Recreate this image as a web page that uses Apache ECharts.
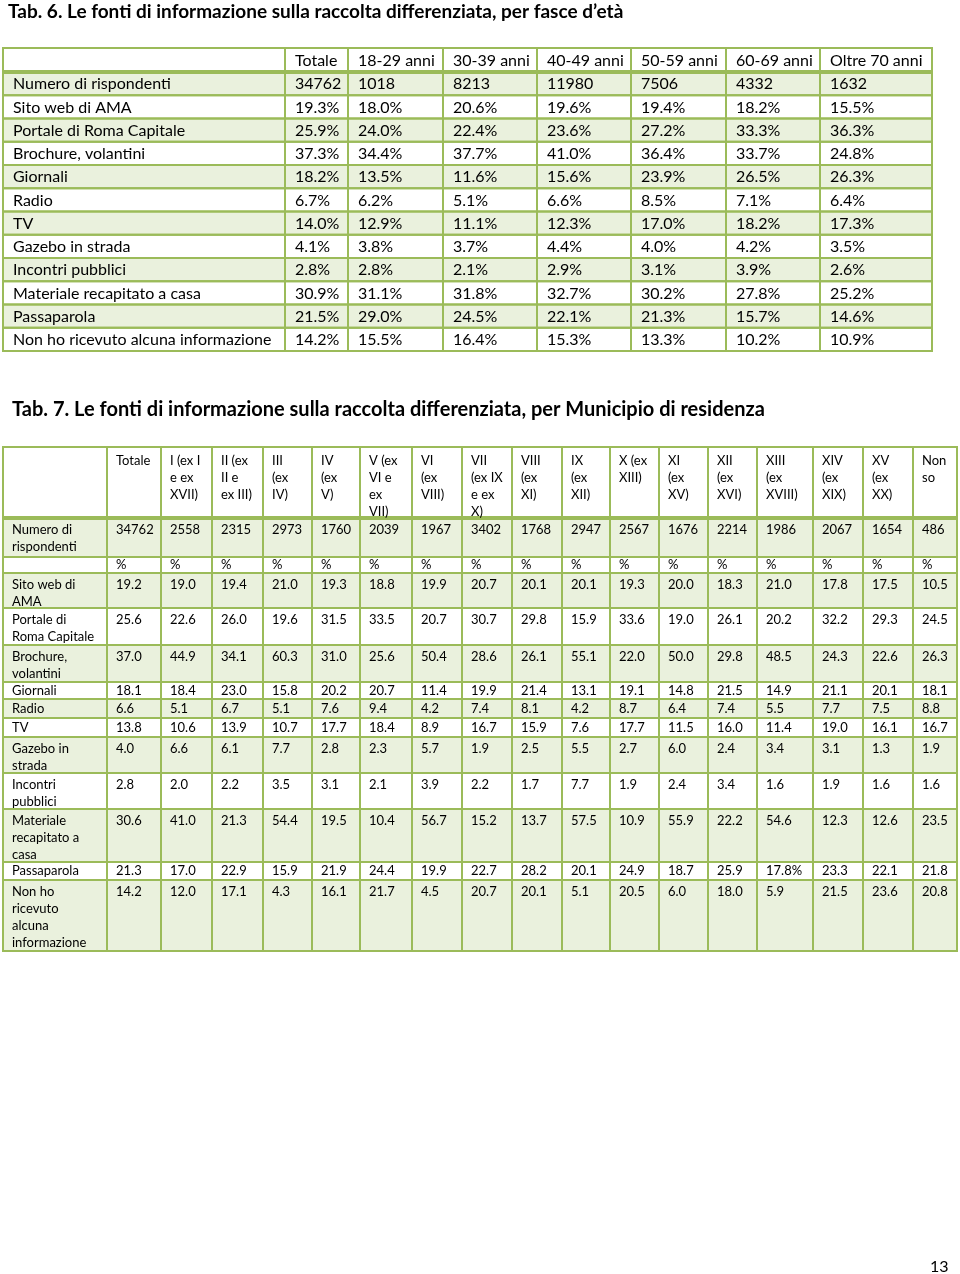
<!DOCTYPE html>
<html><head><meta charset="utf-8">
<script src="https://cdn.jsdelivr.net/npm/echarts/dist/echarts.min.js"></script>
<style>html,body{margin:0;padding:0;background:#fff}#c{width:960px;height:1274px}</style>
</head><body><div id="c"></div>
<script>
// ---------- DATA: Tab. 6 ----------
const title6 = "Tab. 6. Le fonti di informazione sulla raccolta differenziata, per fasce d’età";
const groups6 = ["Totale", "18-29 anni", "30-39 anni", "40-49 anni", "50-59 anni", "60-69 anni", "Oltre 70 anni"];
const sources6 = ["Numero di rispondenti", "Sito web di AMA", "Portale di Roma Capitale", "Brochure, volantini", "Giornali", "Radio", "TV", "Gazebo in strada", "Incontri pubblici", "Materiale recapitato a casa", "Passaparola", "Non ho ricevuto alcuna informazione"];
const respondents6 = [34762, 1018, 8213, 11980, 7506, 4332, 1632];
const sito6 = [19.3, 18.0, 20.6, 19.6, 19.4, 18.2, 15.5];
const portale6 = [25.9, 24.0, 22.4, 23.6, 27.2, 33.3, 36.3];
const brochure6 = [37.3, 34.4, 37.7, 41.0, 36.4, 33.7, 24.8];
const giornali6 = [18.2, 13.5, 11.6, 15.6, 23.9, 26.5, 26.3];
const radio6 = [6.7, 6.2, 5.1, 6.6, 8.5, 7.1, 6.4];
const tv6 = [14.0, 12.9, 11.1, 12.3, 17.0, 18.2, 17.3];
const gazebo6 = [4.1, 3.8, 3.7, 4.4, 4.0, 4.2, 3.5];
const incontri6 = [2.8, 2.8, 2.1, 2.9, 3.1, 3.9, 2.6];
const materiale6 = [30.9, 31.1, 31.8, 32.7, 30.2, 27.8, 25.2];
const passaparola6 = [21.5, 29.0, 24.5, 22.1, 21.3, 15.7, 14.6];
const nonho6 = [14.2, 15.5, 16.4, 15.3, 13.3, 10.2, 10.9];

// ---------- DATA: Tab. 7 ----------
const title7 = "Tab. 7. Le fonti di informazione sulla raccolta differenziata, per Municipio di residenza";
const municipi7 = ["Totale", "I (ex I\ne ex\nXVII)", "II (ex\nII e\nex III)", "III\n(ex\nIV)", "IV\n(ex\nV)", "V (ex\nVI e\nex\nVII)", "VI\n(ex\nVIII)", "VII\n(ex IX\ne ex\nX)", "VIII\n(ex\nXI)", "IX\n(ex\nXII)", "X (ex\nXIII)", "XI\n(ex\nXV)", "XII\n(ex\nXVI)", "XIII\n(ex\nXVIII)", "XIV\n(ex\nXIX)", "XV\n(ex\nXX)", "Non\nso"];
const sources7 = ["Numero di\nrispondenti", "", "Sito web di\nAMA", "Portale di\nRoma Capitale", "Brochure,\nvolantini", "Giornali", "Radio", "TV", "Gazebo in\nstrada", "Incontri\npubblici", "Materiale\nrecapitato a\ncasa", "Passaparola", "Non ho\nricevuto\nalcuna\ninformazione"];
const respondents7 = [34762, 2558, 2315, 2973, 1760, 2039, 1967, 3402, 1768, 2947, 2567, 1676, 2214, 1986, 2067, 1654, 486];
const unit7 = ["%", "%", "%", "%", "%", "%", "%", "%", "%", "%", "%", "%", "%", "%", "%", "%", "%"];
const sito7 = [19.2, 19.0, 19.4, 21.0, 19.3, 18.8, 19.9, 20.7, 20.1, 20.1, 19.3, 20.0, 18.3, 21.0, 17.8, 17.5, 10.5];
const portale7 = [25.6, 22.6, 26.0, 19.6, 31.5, 33.5, 20.7, 30.7, 29.8, 15.9, 33.6, 19.0, 26.1, 20.2, 32.2, 29.3, 24.5];
const brochure7 = [37.0, 44.9, 34.1, 60.3, 31.0, 25.6, 50.4, 28.6, 26.1, 55.1, 22.0, 50.0, 29.8, 48.5, 24.3, 22.6, 26.3];
const giornali7 = [18.1, 18.4, 23.0, 15.8, 20.2, 20.7, 11.4, 19.9, 21.4, 13.1, 19.1, 14.8, 21.5, 14.9, 21.1, 20.1, 18.1];
const radio7 = [6.6, 5.1, 6.7, 5.1, 7.6, 9.4, 4.2, 7.4, 8.1, 4.2, 8.7, 6.4, 7.4, 5.5, 7.7, 7.5, 8.8];
const tv7 = [13.8, 10.6, 13.9, 10.7, 17.7, 18.4, 8.9, 16.7, 15.9, 7.6, 17.7, 11.5, 16.0, 11.4, 19.0, 16.1, 16.7];
const gazebo7 = [4.0, 6.6, 6.1, 7.7, 2.8, 2.3, 5.7, 1.9, 2.5, 5.5, 2.7, 6.0, 2.4, 3.4, 3.1, 1.3, 1.9];
const incontri7 = [2.8, 2.0, 2.2, 3.5, 3.1, 2.1, 3.9, 2.2, 1.7, 7.7, 1.9, 2.4, 3.4, 1.6, 1.9, 1.6, 1.6];
const materiale7 = [30.6, 41.0, 21.3, 54.4, 19.5, 10.4, 56.7, 15.2, 13.7, 57.5, 10.9, 55.9, 22.2, 54.6, 12.3, 12.6, 23.5];
const passaparola7 = [21.3, 17.0, 22.9, 15.9, 21.9, 24.4, 19.9, 22.7, 28.2, 20.1, 24.9, 18.7, 25.9, "17.8%", 23.3, 22.1, 21.8];
const nonho7 = [14.2, 12.0, 17.1, 4.3, 16.1, 21.7, 4.5, 20.7, 20.1, 5.1, 20.5, 6.0, 18.0, 5.9, 21.5, 23.6, 20.8];

const pageNumber = "13";

// ---------- LAYOUT (not data) ----------
const BORDER = '#9bbb59', SHADE = '#eaf1dd', FONT = 'Lato, "Open Sans", sans-serif';
const L6 = { left: 3, top: 48, colW: [282, 63, 95, 94, 94, 95, 94, 112], rowH: [24, 23.25, 23.25, 23.25, 23.25, 23.25, 23.25, 23.25, 23.25, 23.25, 23.25, 23.25, 23.25],
  fontSize: 16, padL: 10, lh: 20, firstCenter: (r, h) => h / 2 + 0.5 };
const L7 = { left: 3, top: 447, colW: [104, 54, 51, 51, 49, 48, 52, 50, 50, 50, 48, 49, 49, 49, 56, 50, 50, 44], rowH: [71, 39, 16, 35, 37, 37, 17, 19, 19, 36, 36, 53, 18, 71],
  fontSize: 13, padL: 9, lh: 17, firstCenter: (r, h) => h < 22 ? h / 2 : (r === 0 ? 14 : 12) };
function edges(ws) { const e = [0]; ws.forEach(w => e.push(e[e.length - 1] + w)); return e; }
[L6, L7].forEach(L => { L.xE = edges(L.colW); L.yE = edges(L.rowH); L.W = L.xE[L.xE.length - 1]; L.H = L.yE[L.yE.length - 1]; });

// ---------- build cells ----------
function cellsFor(headers, labels, rows, fmt) {
  const cells = [];
  cells.push({ value: [0, 0], text: '' });
  headers.forEach((h, i) => cells.push({ value: [i + 1, 0], text: h }));
  labels.forEach((lab, r) => {
    cells.push({ value: [0, r + 1], text: lab });
    rows[r].forEach((v, c) => cells.push({ value: [c + 1, r + 1], text: fmt(v, r) }));
  });
  return cells;
}
const rows6 = [respondents6, sito6, portale6, brochure6, giornali6, radio6, tv6, gazebo6, incontri6, materiale6, passaparola6, nonho6];
const cells6 = cellsFor(groups6, sources6, rows6, (v, r) => r === 0 ? String(v) : v.toFixed(1) + '%');
const rows7 = [respondents7, unit7, sito7, portale7, brochure7, giornali7, radio7, tv7, gazebo7, incontri7, materiale7, passaparola7, nonho7];
const cells7 = cellsFor(municipi7, sources7, rows7, (v, r) => typeof v === 'string' ? v : (r === 0 ? String(v) : v.toFixed(1)));

function renderer(L, cells) {
  return function (params, api) {
    const c = api.value(0), r = api.value(1);
    const item = cells[params.dataIndex];
    const p0 = api.coord([L.xE[c], L.yE[r]]);
    const p1 = api.coord([L.xE[c + 1], L.yE[r + 1]]);
    const w = p1[0] - p0[0], h = p1[1] - p0[1];
    const shaded = r % 2 === 1;
    const ch = [
      { type: 'rect', z2: 0, shape: { x: p0[0], y: p0[1], width: w, height: h }, style: { fill: shaded ? SHADE : '#fff' } },
      { type: 'rect', z2: 10, shape: { x: p0[0], y: p0[1], width: w, height: h }, style: { fill: null, stroke: BORDER, lineWidth: 2 } }
    ];
    if (r === 0) ch.push({ type: 'line', z2: 11, shape: { x1: p0[0], y1: p1[1], x2: p1[0], y2: p1[1] }, style: { stroke: BORDER, lineWidth: 4 } });
    const ty = p0[1] + L.firstCenter(r, h) - L.lh / 2;
    ch.push({ type: 'text', z2: 20, x: p0[0] + L.padL, y: ty,
      style: { text: item.text, fill: '#000', fontSize: L.fontSize, fontFamily: FONT, lineHeight: L.lh,
        align: 'left', verticalAlign: 'top', textAlign: 'left', textVerticalAlign: 'top' } });
    return { type: 'group', children: ch };
  };
}

const chart = echarts.init(document.getElementById('c'), null, { renderer: 'canvas' });
chart.setOption({
  backgroundColor: '#fff',
  animation: false,
  title: [
    { text: title6, left: 8, top: 2, padding: 0, textStyle: { fontFamily: FONT, fontWeight: 'bold', fontSize: 19, color: '#000' } },
    { text: title7, left: 12, top: 400, padding: 0, textStyle: { fontFamily: FONT, fontWeight: 'bold', fontSize: 20, color: '#000' } }
  ],
  graphic: [{ type: 'text', left: 930, top: 1259, style: { text: pageNumber, fontFamily: FONT, fontSize: 16, fill: '#000' } }],
  grid: [
    { left: L6.left, top: L6.top, width: L6.W, height: L6.H },
    { left: L7.left, top: L7.top, width: L7.W, height: L7.H }
  ],
  xAxis: [
    { type: 'value', gridIndex: 0, min: 0, max: L6.W, show: false },
    { type: 'value', gridIndex: 1, min: 0, max: L7.W, show: false }
  ],
  yAxis: [
    { type: 'value', gridIndex: 0, min: 0, max: L6.H, inverse: true, show: false },
    { type: 'value', gridIndex: 1, min: 0, max: L7.H, inverse: true, show: false }
  ],
  series: [
    { type: 'custom', xAxisIndex: 0, yAxisIndex: 0, clip: false, renderItem: renderer(L6, cells6), data: cells6.map(c => c.value) },
    { type: 'custom', xAxisIndex: 1, yAxisIndex: 1, clip: false, renderItem: renderer(L7, cells7), data: cells7.map(c => c.value) }
  ]
});
</script></body></html>
